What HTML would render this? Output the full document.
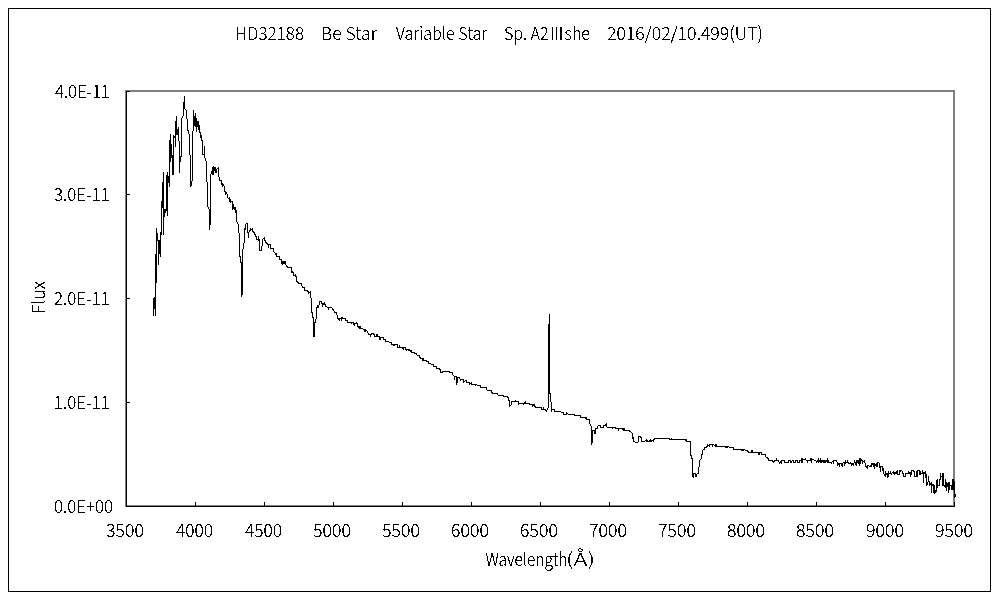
<!DOCTYPE html>
<html><head><meta charset="utf-8"><title>HD32188 spectrum</title>
<style>
html,body{margin:0;padding:0;background:#fff;width:1000px;height:600px;overflow:hidden}
svg{display:block}
text{font-family:"Noto Sans CJK JP", "IPAPGothic", "IPAGothic", "Liberation Sans", sans-serif;font-weight:300;font-size:18px;fill:#000}
</style></head><body>
<svg width="1000" height="600" viewBox="0 0 1000 600">
<defs><filter id="crisp" x="-5%" y="-5%" width="110%" height="110%" color-interpolation-filters="sRGB"><feComponentTransfer><feFuncA type="discrete" tableValues="0 0 0 0 0 0 0 0 1 1 1 1 1 1 1 1 1 1 1 1"/></feComponentTransfer></filter></defs>
<rect x="0" y="0" width="1000" height="600" fill="#fff"/>
<rect x="8.5" y="8.5" width="982" height="583" fill="none" stroke="#000" stroke-width="1" shape-rendering="crispEdges"/>
<rect x="126" y="91" width="828" height="415" fill="none" stroke="#808080" stroke-width="2" shape-rendering="crispEdges"/>
<path d="M126 91h1v416h-1zM126 506h829v1h-829zM126 91h4v1h-4zM126 194h4v1h-4zM126 298h4v1h-4zM126 402h4v1h-4zM195 502h1v4h-1zM264 502h1v4h-1zM333 502h1v4h-1zM402 502h1v4h-1zM471 502h1v4h-1zM540 502h1v4h-1zM609 502h1v4h-1zM678 502h1v4h-1zM747 502h1v4h-1zM816 502h1v4h-1zM885 502h1v4h-1zM954 502h1v4h-1z" fill="#000" shape-rendering="crispEdges"/>
<path d="M153 298h1v18h-1zM154 297h1v12h-1zM155 254h1v62h-1zM156 228h1v55h-1zM157 233h1v8h-1zM158 240h1v25h-1zM159 240h1v14h-1zM160 232h1v25h-1zM161 201h1v34h-1zM162 182h1v26h-1zM163 172h1v63h-1zM164 209h1v8h-1zM165 209h1v4h-1zM166 175h1v36h-1zM167 172h1v44h-1zM168 176h1v7h-1zM169 140h1v47h-1zM170 134h1v28h-1zM171 144h1v14h-1zM172 155h1v20h-1zM173 135h1v40h-1zM174 136h1v2h-1zM175 121h1v26h-1zM176 116h1v19h-1zM177 129h1v6h-1zM178 127h1v14h-1zM179 141h1v32h-1zM180 156h1v6h-1zM181 118h1v39h-1zM182 116h1v2h-1zM183 102h1v14h-1zM184 96h1v13h-1zM185 109h1v1h-1zM186 110h1v9h-1zM187 119h1v12h-1zM188 130h1v4h-1zM189 134h1v21h-1zM190 155h1v32h-1zM191 181h1v5h-1zM192 131h1v50h-1zM193 110h1v21h-1zM194 116h1v10h-1zM195 113h1v14h-1zM196 118h1v14h-1zM197 121h1v6h-1zM198 121h1v9h-1zM199 125h1v8h-1zM200 132h1v6h-1zM201 135h1v6h-1zM202 140h1v15h-1zM203 154h1v1h-1zM204 146h1v12h-1zM205 158h1v3h-1zM206 161h1v21h-1zM207 182h1v25h-1zM208 207h1v2h-1zM209 209h1v21h-1zM210 174h1v51h-1zM211 171h1v3h-1zM212 167h1v8h-1zM213 166h1v9h-1zM214 167h1v4h-1zM215 167h1v6h-1zM216 169h1v4h-1zM217 168h1v1h-1zM218 167h1v10h-1zM219 177h1v4h-1zM220 180h1v1h-1zM221 180h1v5h-1zM222 183h1v4h-1zM223 184h1v2h-1zM224 186h1v6h-1zM225 191h1v4h-1zM226 192h1v2h-1zM227 194h1v4h-1zM228 198h1v1h-1zM229 197h1v5h-1zM230 199h1v4h-1zM231 201h1v1h-1zM232 201h1v9h-1zM233 204h1v5h-1zM234 207h1v3h-1zM235 207h1v6h-1zM236 210h1v12h-1zM237 222h1v2h-1zM238 224h1v9h-1zM239 233h1v24h-1zM240 256h1v7h-1zM241 262h1v35h-1zM242 249h1v46h-1zM243 243h1v6h-1zM244 228h1v15h-1zM245 224h1v6h-1zM246 223h1v1h-1zM247 223h1v10h-1zM248 232h1v6h-1zM249 230h1v2h-1zM250 228h1v3h-1zM251 229h1v1h-1zM252 228h1v4h-1zM253 231h1v2h-1zM254 232h1v3h-1zM255 234h1v3h-1zM256 236h1v4h-1zM257 239h1v1h-1zM258 236h1v5h-1zM259 239h1v12h-1zM260 250h1v1h-1zM261 246h1v5h-1zM262 239h1v7h-1zM263 238h1v1h-1zM264 237h1v4h-1zM265 240h1v3h-1zM266 242h1v2h-1zM267 243h1v2h-1zM268 244h1v4h-1zM269 244h1v1h-1zM270 244h1v5h-1zM271 248h1v1h-1zM272 248h1v1h-1zM273 248h1v4h-1zM274 252h1v1h-1zM275 253h1v2h-1zM276 253h1v4h-1zM277 256h1v1h-1zM278 256h1v1h-1zM279 256h1v4h-1zM280 259h1v1h-1zM281 259h1v5h-1zM282 261h1v4h-1zM283 261h1v3h-1zM284 261h1v3h-1zM285 261h1v4h-1zM286 265h1v2h-1zM287 266h1v2h-1zM288 267h1v1h-1zM289 267h1v1h-1zM290 267h1v1h-1zM291 267h1v6h-1zM292 271h1v2h-1zM293 272h1v4h-1zM294 275h1v1h-1zM295 274h1v3h-1zM296 276h1v6h-1zM297 281h1v2h-1zM298 282h1v2h-1zM299 283h1v1h-1zM300 283h1v1h-1zM301 283h1v3h-1zM302 286h1v2h-1zM303 287h1v1h-1zM304 287h1v4h-1zM305 290h1v1h-1zM306 290h1v1h-1zM307 290h1v2h-1zM308 291h1v3h-1zM309 292h1v1h-1zM310 291h1v7h-1zM311 298h1v15h-1zM312 312h1v6h-1zM313 317h1v20h-1zM314 322h1v15h-1zM315 319h1v4h-1zM316 307h1v12h-1zM317 305h1v3h-1zM318 305h1v3h-1zM319 301h1v4h-1zM320 301h1v1h-1zM321 301h1v3h-1zM322 303h1v4h-1zM323 303h1v2h-1zM324 302h1v3h-1zM325 304h1v3h-1zM326 306h1v1h-1zM327 307h1v1h-1zM328 307h1v3h-1zM329 307h1v1h-1zM330 307h1v1h-1zM331 307h1v1h-1zM332 308h1v2h-1zM333 309h1v2h-1zM334 311h1v2h-1zM335 312h1v1h-1zM336 312h1v3h-1zM337 315h1v4h-1zM338 318h1v2h-1zM339 318h1v3h-1zM340 318h1v1h-1zM341 317h1v4h-1zM342 317h1v2h-1zM343 318h1v1h-1zM344 318h1v1h-1zM345 318h1v3h-1zM346 320h1v1h-1zM347 320h1v3h-1zM348 322h1v1h-1zM349 322h1v1h-1zM350 322h1v1h-1zM351 322h1v2h-1zM352 322h1v1h-1zM353 322h1v3h-1zM354 323h1v3h-1zM355 323h1v1h-1zM356 322h1v2h-1zM357 323h1v4h-1zM358 326h1v2h-1zM359 326h1v3h-1zM360 326h1v3h-1zM361 328h1v1h-1zM362 328h1v1h-1zM363 329h1v1h-1zM364 329h1v3h-1zM365 329h1v3h-1zM366 330h1v1h-1zM367 331h1v2h-1zM368 333h1v2h-1zM369 334h1v1h-1zM370 334h1v3h-1zM371 333h1v2h-1zM372 333h1v1h-1zM373 333h1v2h-1zM374 334h1v3h-1zM375 336h1v1h-1zM376 334h1v3h-1zM377 334h1v3h-1zM378 336h1v1h-1zM379 336h1v4h-1zM380 337h1v3h-1zM381 337h1v1h-1zM382 337h1v1h-1zM383 337h1v3h-1zM384 339h1v1h-1zM385 339h1v3h-1zM386 341h1v1h-1zM387 341h1v1h-1zM388 341h1v1h-1zM389 342h1v1h-1zM390 342h1v1h-1zM391 342h1v3h-1zM392 344h1v1h-1zM393 344h1v2h-1zM394 344h1v2h-1zM395 344h1v1h-1zM396 344h1v1h-1zM397 344h1v4h-1zM398 347h1v1h-1zM399 345h1v3h-1zM400 347h1v1h-1zM401 347h1v1h-1zM402 347h1v2h-1zM403 347h1v3h-1zM404 347h1v1h-1zM405 347h1v3h-1zM406 349h1v2h-1zM407 349h1v1h-1zM408 349h1v2h-1zM409 349h1v2h-1zM410 350h1v2h-1zM411 350h1v3h-1zM412 352h1v1h-1zM413 352h1v1h-1zM414 352h1v2h-1zM415 353h1v1h-1zM416 353h1v2h-1zM417 355h1v1h-1zM418 355h1v1h-1zM419 355h1v3h-1zM420 357h1v2h-1zM421 358h1v1h-1zM422 358h1v3h-1zM423 358h1v3h-1zM424 360h1v1h-1zM425 360h1v1h-1zM426 360h1v2h-1zM427 361h1v1h-1zM428 361h1v3h-1zM429 363h1v1h-1zM430 363h1v1h-1zM431 364h1v1h-1zM432 364h1v1h-1zM433 364h1v3h-1zM434 366h1v1h-1zM435 366h1v1h-1zM436 366h1v3h-1zM437 368h1v1h-1zM438 368h1v1h-1zM439 368h1v2h-1zM440 369h1v4h-1zM441 372h1v1h-1zM442 371h1v2h-1zM443 371h1v1h-1zM444 371h1v1h-1zM445 371h1v1h-1zM446 371h1v1h-1zM447 371h1v1h-1zM448 371h1v1h-1zM449 371h1v2h-1zM450 372h1v1h-1zM451 372h1v1h-1zM452 372h1v3h-1zM453 375h1v1h-1zM454 376h1v4h-1zM455 376h1v1h-1zM456 376h1v9h-1zM457 377h1v6h-1zM458 377h1v1h-1zM459 377h1v2h-1zM460 379h1v2h-1zM461 379h1v1h-1zM462 379h1v1h-1zM463 379h1v4h-1zM464 381h1v1h-1zM465 380h1v1h-1zM466 380h1v3h-1zM467 382h1v1h-1zM468 382h1v1h-1zM469 382h1v3h-1zM470 383h1v1h-1zM471 382h1v3h-1zM472 384h1v1h-1zM473 384h1v1h-1zM474 384h1v1h-1zM475 384h1v2h-1zM476 384h1v1h-1zM477 385h1v1h-1zM478 385h1v1h-1zM479 385h1v1h-1zM480 385h1v3h-1zM481 387h1v1h-1zM482 387h1v1h-1zM483 387h1v1h-1zM484 387h1v1h-1zM485 387h1v1h-1zM486 387h1v3h-1zM487 390h1v1h-1zM488 390h1v1h-1zM489 390h1v1h-1zM490 390h1v1h-1zM491 390h1v3h-1zM492 392h1v2h-1zM493 393h1v1h-1zM494 393h1v1h-1zM495 393h1v1h-1zM496 393h1v1h-1zM497 393h1v2h-1zM498 395h1v1h-1zM499 395h1v1h-1zM500 395h1v1h-1zM501 395h1v1h-1zM502 395h1v1h-1zM503 395h1v2h-1zM504 396h1v1h-1zM505 396h1v1h-1zM506 396h1v1h-1zM507 396h1v2h-1zM508 397h1v4h-1zM509 400h1v7h-1zM510 405h1v1h-1zM511 401h1v4h-1zM512 401h1v1h-1zM513 401h1v1h-1zM514 401h1v1h-1zM515 400h1v2h-1zM516 401h1v1h-1zM517 401h1v1h-1zM518 401h1v4h-1zM519 403h1v1h-1zM520 403h1v1h-1zM521 403h1v1h-1zM522 403h1v1h-1zM523 403h1v2h-1zM524 402h1v2h-1zM525 401h1v3h-1zM526 403h1v1h-1zM527 403h1v1h-1zM528 403h1v1h-1zM529 403h1v2h-1zM530 404h1v1h-1zM531 404h1v1h-1zM532 404h1v3h-1zM533 404h1v2h-1zM534 404h1v3h-1zM535 406h1v2h-1zM536 407h1v1h-1zM537 407h1v1h-1zM538 407h1v1h-1zM539 407h1v1h-1zM540 407h1v1h-1zM541 407h1v3h-1zM542 409h1v1h-1zM543 407h1v3h-1zM544 409h1v1h-1zM545 409h1v2h-1zM546 410h1v2h-1zM547 408h1v2h-1zM548 324h1v84h-1zM549 314h1v80h-1zM550 393h1v9h-1zM551 402h1v10h-1zM552 409h1v1h-1zM553 409h1v1h-1zM554 409h1v3h-1zM555 411h1v1h-1zM556 411h1v1h-1zM557 411h1v1h-1zM558 411h1v1h-1zM559 411h1v1h-1zM560 411h1v1h-1zM561 412h1v1h-1zM562 412h1v1h-1zM563 412h1v3h-1zM564 414h1v1h-1zM565 414h1v1h-1zM566 412h1v3h-1zM567 413h1v1h-1zM568 414h1v1h-1zM569 414h1v1h-1zM570 414h1v1h-1zM571 414h1v1h-1zM572 414h1v1h-1zM573 414h1v1h-1zM574 414h1v2h-1zM575 415h1v1h-1zM576 415h1v1h-1zM577 415h1v1h-1zM578 415h1v1h-1zM579 415h1v1h-1zM580 415h1v3h-1zM581 417h1v1h-1zM582 417h1v1h-1zM583 417h1v1h-1zM584 417h1v1h-1zM585 417h1v2h-1zM586 417h1v3h-1zM587 419h1v1h-1zM588 419h1v1h-1zM589 419h1v5h-1zM590 424h1v2h-1zM591 426h1v19h-1zM592 430h1v13h-1zM593 430h1v1h-1zM594 430h1v4h-1zM595 428h1v6h-1zM596 428h1v1h-1zM597 426h1v3h-1zM598 425h1v1h-1zM599 425h1v1h-1zM600 425h1v3h-1zM601 427h1v1h-1zM602 427h1v1h-1zM603 425h1v3h-1zM604 425h1v1h-1zM605 424h1v2h-1zM606 423h1v4h-1zM607 427h1v1h-1zM608 427h1v1h-1zM609 427h1v1h-1zM610 427h1v1h-1zM611 427h1v1h-1zM612 427h1v2h-1zM613 427h1v1h-1zM614 427h1v1h-1zM615 427h1v2h-1zM616 428h1v1h-1zM617 428h1v1h-1zM618 428h1v3h-1zM619 428h1v1h-1zM620 428h1v1h-1zM621 428h1v1h-1zM622 428h1v2h-1zM623 428h1v3h-1zM624 428h1v3h-1zM625 430h1v1h-1zM626 430h1v1h-1zM627 430h1v1h-1zM628 430h1v1h-1zM629 430h1v2h-1zM630 431h1v1h-1zM631 432h1v1h-1zM632 433h1v6h-1zM633 437h1v5h-1zM634 441h1v1h-1zM635 442h1v1h-1zM636 442h1v1h-1zM637 442h1v1h-1zM638 436h1v6h-1zM639 436h1v1h-1zM640 436h1v2h-1zM641 437h1v5h-1zM642 441h1v1h-1zM643 441h1v1h-1zM644 441h1v1h-1zM645 440h1v1h-1zM646 439h1v3h-1zM647 440h1v2h-1zM648 441h1v1h-1zM649 440h1v2h-1zM650 439h1v3h-1zM651 440h1v2h-1zM652 440h1v1h-1zM653 439h1v3h-1zM654 438h1v2h-1zM655 438h1v1h-1zM656 438h1v1h-1zM657 438h1v1h-1zM658 438h1v1h-1zM659 438h1v1h-1zM660 438h1v1h-1zM661 438h1v1h-1zM662 438h1v1h-1zM663 438h1v1h-1zM664 438h1v1h-1zM665 438h1v1h-1zM666 438h1v1h-1zM667 438h1v1h-1zM668 438h1v1h-1zM669 438h1v2h-1zM670 439h1v1h-1zM671 438h1v2h-1zM672 439h1v1h-1zM673 439h1v1h-1zM674 439h1v1h-1zM675 439h1v1h-1zM676 439h1v1h-1zM677 439h1v1h-1zM678 439h1v1h-1zM679 439h1v1h-1zM680 439h1v1h-1zM681 439h1v1h-1zM682 439h1v1h-1zM683 439h1v1h-1zM684 439h1v1h-1zM685 439h1v2h-1zM686 439h1v3h-1zM687 441h1v1h-1zM688 441h1v1h-1zM689 441h1v1h-1zM690 441h1v15h-1zM691 455h1v4h-1zM692 458h1v19h-1zM693 473h1v5h-1zM694 473h1v1h-1zM695 473h1v4h-1zM696 474h1v3h-1zM697 473h1v1h-1zM698 467h1v7h-1zM699 460h1v7h-1zM700 459h1v1h-1zM701 454h1v5h-1zM702 450h1v5h-1zM703 449h1v1h-1zM704 447h1v3h-1zM705 447h1v1h-1zM706 446h1v2h-1zM707 444h1v3h-1zM708 445h1v1h-1zM709 444h1v3h-1zM710 444h1v1h-1zM711 444h1v1h-1zM712 444h1v3h-1zM713 444h1v1h-1zM714 445h1v1h-1zM715 444h1v3h-1zM716 444h1v3h-1zM717 446h1v1h-1zM718 446h1v1h-1zM719 446h1v1h-1zM720 446h1v1h-1zM721 446h1v1h-1zM722 446h1v1h-1zM723 446h1v1h-1zM724 446h1v1h-1zM725 446h1v2h-1zM726 446h1v2h-1zM727 446h1v2h-1zM728 446h1v1h-1zM729 447h1v1h-1zM730 447h1v1h-1zM731 447h1v1h-1zM732 447h1v1h-1zM733 447h1v3h-1zM734 449h1v1h-1zM735 449h1v1h-1zM736 449h1v1h-1zM737 449h1v1h-1zM738 449h1v1h-1zM739 449h1v1h-1zM740 449h1v1h-1zM741 449h1v2h-1zM742 449h1v2h-1zM743 449h1v2h-1zM744 449h1v1h-1zM745 450h1v1h-1zM746 450h1v1h-1zM747 450h1v2h-1zM748 451h1v2h-1zM749 452h1v1h-1zM750 452h1v1h-1zM751 450h1v3h-1zM752 450h1v3h-1zM753 452h1v1h-1zM754 452h1v1h-1zM755 452h1v1h-1zM756 452h1v1h-1zM757 452h1v1h-1zM758 452h1v3h-1zM759 452h1v3h-1zM760 452h1v1h-1zM761 452h1v3h-1zM762 454h1v1h-1zM763 454h1v1h-1zM764 454h1v1h-1zM765 454h1v3h-1zM766 457h1v1h-1zM767 457h1v2h-1zM768 458h1v3h-1zM769 460h1v1h-1zM770 460h1v1h-1zM771 460h1v1h-1zM772 460h1v2h-1zM773 461h1v2h-1zM774 460h1v2h-1zM775 460h1v1h-1zM776 458h1v3h-1zM777 460h1v1h-1zM778 460h1v2h-1zM779 462h1v2h-1zM780 461h1v2h-1zM781 460h1v4h-1zM782 460h1v1h-1zM783 460h1v1h-1zM784 460h1v3h-1zM785 462h1v1h-1zM786 462h1v1h-1zM787 462h1v1h-1zM788 460h1v3h-1zM789 460h1v1h-1zM790 460h1v3h-1zM791 461h1v2h-1zM792 460h1v1h-1zM793 460h1v3h-1zM794 462h1v1h-1zM795 460h1v3h-1zM796 460h1v1h-1zM797 460h1v3h-1zM798 462h1v1h-1zM799 460h1v3h-1zM800 460h1v1h-1zM801 458h1v5h-1zM802 458h1v5h-1zM803 459h1v1h-1zM804 459h1v1h-1zM805 458h1v2h-1zM806 460h1v1h-1zM807 460h1v3h-1zM808 460h1v1h-1zM809 460h1v1h-1zM810 458h1v3h-1zM811 458h1v5h-1zM812 459h1v1h-1zM813 459h1v1h-1zM814 460h1v1h-1zM815 460h1v1h-1zM816 461h1v2h-1zM817 460h1v2h-1zM818 458h1v5h-1zM819 460h1v2h-1zM820 458h1v5h-1zM821 460h1v3h-1zM822 460h1v2h-1zM823 460h1v3h-1zM824 460h1v3h-1zM825 460h1v3h-1zM826 460h1v2h-1zM827 458h1v5h-1zM828 460h1v3h-1zM829 462h1v1h-1zM830 462h1v1h-1zM831 462h1v2h-1zM832 461h1v1h-1zM833 460h1v4h-1zM834 460h1v1h-1zM835 460h1v1h-1zM836 460h1v2h-1zM837 462h1v4h-1zM838 463h1v2h-1zM839 463h1v4h-1zM840 463h1v1h-1zM841 463h1v3h-1zM842 463h1v4h-1zM843 462h1v1h-1zM844 462h1v4h-1zM845 460h1v4h-1zM846 462h1v1h-1zM847 460h1v3h-1zM848 462h1v2h-1zM849 463h1v1h-1zM850 462h1v2h-1zM851 463h1v3h-1zM852 463h1v2h-1zM853 463h1v3h-1zM854 460h1v3h-1zM855 462h1v3h-1zM856 460h1v6h-1zM857 460h1v3h-1zM858 460h1v4h-1zM859 458h1v8h-1zM860 458h1v6h-1zM861 459h1v2h-1zM862 460h1v4h-1zM863 461h1v1h-1zM864 460h1v3h-1zM865 463h1v4h-1zM866 466h1v2h-1zM867 465h1v4h-1zM868 465h1v1h-1zM869 466h1v1h-1zM870 465h1v2h-1zM871 463h1v4h-1zM872 463h1v2h-1zM873 463h1v4h-1zM874 463h1v6h-1zM875 464h1v2h-1zM876 463h1v4h-1zM877 462h1v5h-1zM878 462h1v1h-1zM879 463h1v5h-1zM880 466h1v6h-1zM881 466h1v1h-1zM882 466h1v5h-1zM883 468h1v6h-1zM884 474h1v2h-1zM885 471h1v6h-1zM886 473h1v2h-1zM887 473h1v5h-1zM888 471h1v6h-1zM889 473h1v1h-1zM890 471h1v3h-1zM891 473h1v2h-1zM892 472h1v1h-1zM893 471h1v3h-1zM894 472h1v3h-1zM895 472h1v2h-1zM896 471h1v3h-1zM897 470h1v5h-1zM898 474h1v1h-1zM899 470h1v5h-1zM900 470h1v2h-1zM901 470h1v1h-1zM902 471h1v3h-1zM903 473h1v4h-1zM904 476h1v1h-1zM905 473h1v4h-1zM906 473h1v1h-1zM907 473h1v1h-1zM908 471h1v3h-1zM909 472h1v2h-1zM910 472h1v5h-1zM911 470h1v5h-1zM912 470h1v1h-1zM913 470h1v2h-1zM914 471h1v6h-1zM915 476h1v1h-1zM916 471h1v6h-1zM917 470h1v7h-1zM918 470h1v1h-1zM919 470h1v5h-1zM920 471h1v4h-1zM921 473h1v1h-1zM922 470h1v4h-1zM923 472h1v11h-1zM924 472h1v2h-1zM925 471h1v7h-1zM926 474h1v12h-1zM927 482h1v3h-1zM928 476h1v6h-1zM929 481h1v5h-1zM930 483h1v2h-1zM931 482h1v11h-1zM932 484h1v2h-1zM933 484h1v9h-1zM934 485h1v9h-1zM935 490h1v3h-1zM936 480h1v12h-1zM937 479h1v9h-1zM938 485h1v1h-1zM939 479h1v7h-1zM940 473h1v7h-1zM941 476h1v1h-1zM942 473h1v13h-1zM943 473h1v13h-1zM944 485h1v2h-1zM945 479h1v9h-1zM946 482h1v9h-1zM947 483h1v4h-1zM948 482h1v11h-1zM949 482h1v8h-1zM950 485h1v1h-1zM951 485h1v5h-1zM952 479h1v11h-1zM953 479h1v11h-1zM954 481h1v17h-1zM955 494h1v3h-1z" fill="#000" shape-rendering="crispEdges"/>
<g filter="url(#crisp)">
<text x="235.0" y="40" textLength="69.0" lengthAdjust="spacingAndGlyphs">HD32188</text>
<text x="321.0" y="40" textLength="56.0" lengthAdjust="spacingAndGlyphs">Be Star</text>
<text x="396.0" y="40" textLength="91.0" lengthAdjust="spacingAndGlyphs">Variable Star</text>
<text x="504.0" y="40" textLength="86.0" lengthAdjust="spacingAndGlyphs">Sp. A2Ⅲshe</text>
<text x="607.0" y="40" textLength="156.0" lengthAdjust="spacingAndGlyphs">2016/02/10.499(UT)</text>
<text x="55.0" y="98" textLength="55.0" lengthAdjust="spacingAndGlyphs">4.0E-11</text>
<text x="54.0" y="201" textLength="56.0" lengthAdjust="spacingAndGlyphs">3.0E-11</text>
<text x="54.0" y="305" textLength="56.0" lengthAdjust="spacingAndGlyphs">2.0E-11</text>
<text x="54.0" y="409" textLength="56.0" lengthAdjust="spacingAndGlyphs">1.0E-11</text>
<text x="54.0" y="513" textLength="59.0" lengthAdjust="spacingAndGlyphs">0.0E+00</text>
<text x="106.0" y="537" textLength="38.0" lengthAdjust="spacingAndGlyphs">3500</text>
<text x="176.0" y="537" textLength="37.0" lengthAdjust="spacingAndGlyphs">4000</text>
<text x="245.0" y="537" textLength="37.0" lengthAdjust="spacingAndGlyphs">4500</text>
<text x="313.0" y="537" textLength="38.0" lengthAdjust="spacingAndGlyphs">5000</text>
<text x="382.0" y="537" textLength="38.0" lengthAdjust="spacingAndGlyphs">5500</text>
<text x="451.0" y="537" textLength="38.0" lengthAdjust="spacingAndGlyphs">6000</text>
<text x="520.0" y="537" textLength="38.0" lengthAdjust="spacingAndGlyphs">6500</text>
<text x="589.0" y="537" textLength="38.0" lengthAdjust="spacingAndGlyphs">7000</text>
<text x="658.0" y="537" textLength="38.0" lengthAdjust="spacingAndGlyphs">7500</text>
<text x="727.0" y="537" textLength="38.0" lengthAdjust="spacingAndGlyphs">8000</text>
<text x="796.0" y="537" textLength="38.0" lengthAdjust="spacingAndGlyphs">8500</text>
<text x="866.0" y="537" textLength="38.0" lengthAdjust="spacingAndGlyphs">9000</text>
<text x="935.0" y="537" textLength="38.0" lengthAdjust="spacingAndGlyphs">9500</text>
<text x="485.5" y="566" textLength="82" lengthAdjust="spacingAndGlyphs">Wavelength</text>
<text x="566" y="566" textLength="29" lengthAdjust="spacingAndGlyphs">(Å)</text>
<text x="45" y="314" textLength="33" lengthAdjust="spacingAndGlyphs" transform="rotate(-90 45 314)">Flux</text>
</g>
</svg>
</body></html>
